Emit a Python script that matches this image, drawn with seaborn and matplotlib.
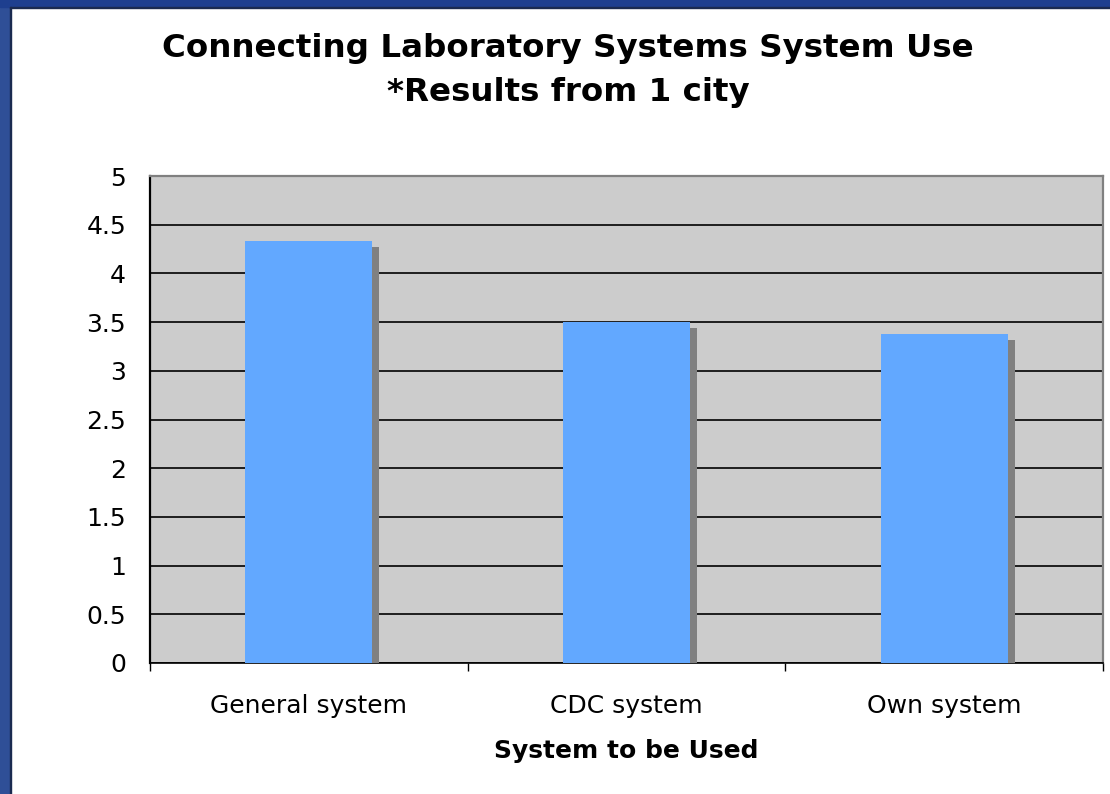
import matplotlib
matplotlib.use("Agg")
import matplotlib.pyplot as plt
import matplotlib.patheffects as pe
from matplotlib.patches import Rectangle
import seaborn as sns
import pandas as pd

categories = ["General system", "CDC system", "Own system"]
values = [4.33, 3.50, 3.38]
yticks = [0, 0.5, 1, 1.5, 2, 2.5, 3, 3.5, 4, 4.5, 5]
title_line1 = "Connecting Laboratory Systems System Use"
title_line2 = "*Results from 1 city"
xlabel = "System to be Used"

sns.set_style("white")
plt.rcParams['font.family'] = ['DejaVu Sans']
plt.rcParams['text.color'] = 'black'
plt.rcParams['axes.labelcolor'] = 'black'
plt.rcParams['xtick.color'] = 'black'
plt.rcParams['ytick.color'] = 'black'

W, H = 1110, 794
fig = plt.figure(figsize=(W / 100, H / 100), dpi=100, facecolor="white")

# slide background strips
blue = "#2F4F97"
fig.add_artist(Rectangle((0, 0), 10 / W, 1, transform=fig.transFigure, color=blue, zorder=0))
fig.add_artist(Rectangle((0, 1 - 7 / H), 1, 7 / H, transform=fig.transFigure, color="#1E3F8F", zorder=0))
fig.add_artist(Rectangle((10 / W, 0), 1.2 / W, 1 - 7 / H, transform=fig.transFigure, color="#1A2A50", zorder=1))
fig.add_artist(Rectangle((10 / W, 1 - 8 / H), 1 - 10 / W, 1.2 / H, transform=fig.transFigure, color="#1A2A50", zorder=1))

ax = fig.add_axes([150 / W, (H - 663) / H, (1103 - 150) / W, (663 - 176) / H])
ax.set_facecolor("#CCCCCC")

df = pd.DataFrame({"cat": categories, "val": values})
sns.barplot(data=df, x="cat", y="val", color="#62A8FF", saturation=1, width=0.40, ax=ax, zorder=3)
for p in ax.patches:
    p.set_edgecolor("none")
    p.set_path_effects([pe.SimplePatchShadow(offset=(5, -4.3), shadow_rgbFace="#808080", alpha=1.0), pe.Normal()])

ax.set_xlim(-0.5, len(categories) - 0.5)
ax.set_ylim(0, 5)
ax.set_yticks(yticks)
ax.set_yticklabels([f"{t:g}" for t in yticks])
ax.yaxis.grid(True, color="#000000", linewidth=1.2)
ax.set_axisbelow(True)

ax.set_xticks(range(len(categories)))
ax.set_xticklabels(categories)
ax.set_xticks([i - 0.5 for i in range(len(categories) + 1)], minor=True)
ax.tick_params(axis="x", which="major", length=0, pad=22.5, labelsize=18, colors="black")
ax.tick_params(axis="x", which="minor", length=8 * 0.72, width=1, color="black", direction="out")
ax.tick_params(axis="y", which="major", length=8 * 0.72, width=1, color="black", direction="out", pad=11.5, labelsize=18)
ax.tick_params(bottom=False, which="major")
ax.xaxis.set_tick_params(which="minor", bottom=True)

for s in ["left", "bottom"]:
    ax.spines[s].set_visible(True)
    ax.spines[s].set_color("black")
ax.spines["left"].set_linewidth(1.6)
ax.spines["bottom"].set_linewidth(1.2)
for s in ["top", "right"]:
    ax.spines[s].set_visible(True)
    ax.spines[s].set_color("#808080")
    ax.spines[s].set_linewidth(1.6)

ax.set_xlabel(xlabel, fontsize=18, fontweight="bold", labelpad=15, color="black")
ax.set_ylabel("")

fig.text(568 / W, 1 - 48 / H, title_line1, ha="center", va="center", fontsize=23.4, fontweight="bold", color="black")
fig.text(568 / W, 1 - 92 / H, title_line2, ha="center", va="center", fontsize=23.4, fontweight="bold", color="black")

fig.savefig("out.png", dpi=100, facecolor="white")
